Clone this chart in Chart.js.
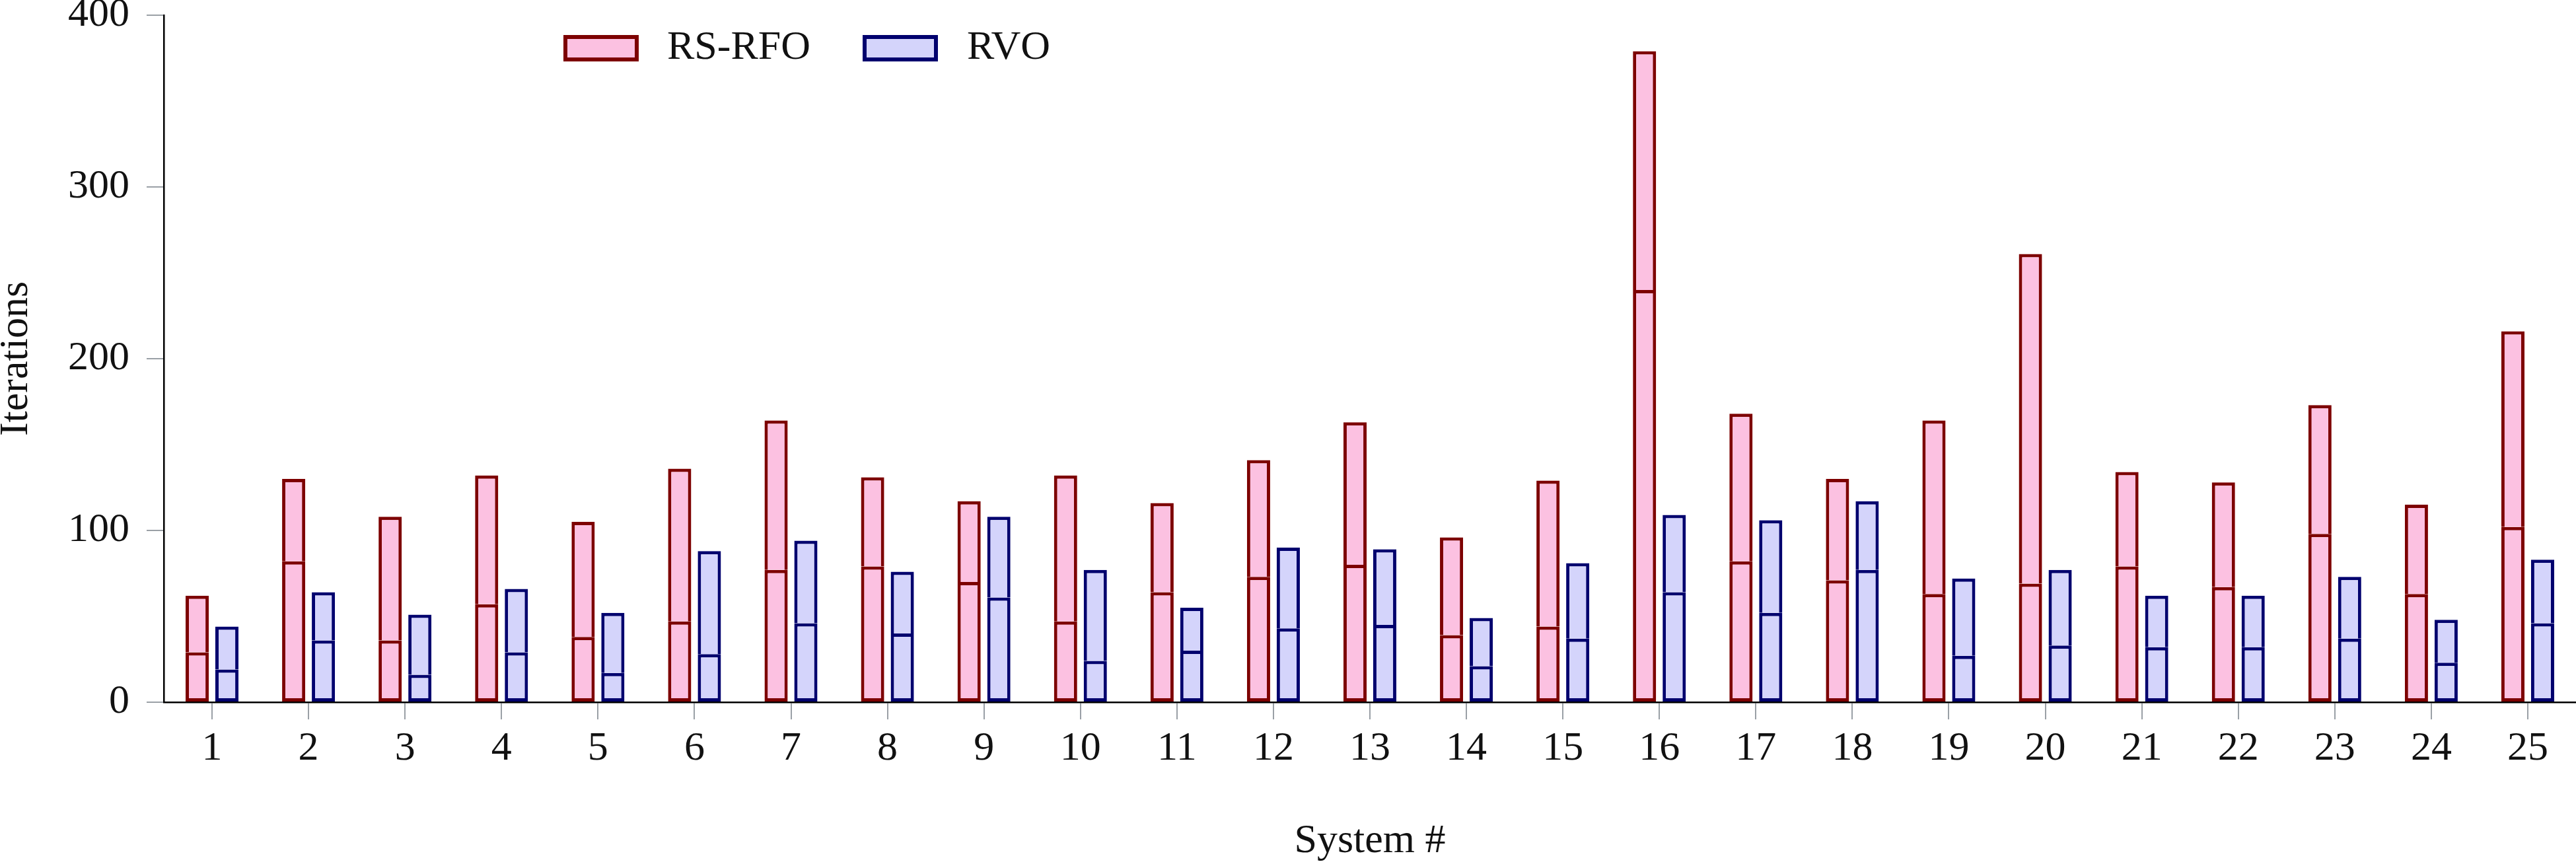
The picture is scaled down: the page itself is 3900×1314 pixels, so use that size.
<!DOCTYPE html>
<html>
<head>
<meta charset="utf-8">
<script src="https://cdn.jsdelivr.net/npm/chart.js@4.4.1/dist/chart.umd.min.js"></script>
<style>
  body { margin: 0; background: #fff; }
  canvas { display: block; }
</style>
</head>
<body>
<canvas id="iterChart" width="3900" height="1314"></canvas>
<script>
// systems 1..25
const systems = ['1','2','3','4','5','6','7','8','9','10','11','12','13','14','15','16','17','18','19','20','21','22','23','24','25'];
// RS-RFO: total iterations and the inner split line
const rsTotal = [62, 130, 108, 132, 105, 136, 164, 131, 117, 132, 116, 141, 163, 96, 129, 379, 168, 130, 164, 261, 134, 128, 173, 115, 216];
const rsLower = [29, 82, 36, 57, 38, 47, 77, 79, 70, 47, 64, 73, 80, 39, 44, 240, 82, 71, 63, 69, 79, 67, 98, 63, 102];
// RVO
const rvoTotal = [44, 64, 51, 66, 52, 88, 94, 76, 108, 77, 55, 90, 89, 49, 81, 109, 106, 117, 72, 77, 62, 62, 73, 48, 83];
const rvoLower = [19, 36, 16, 29, 17, 28, 46, 40, 61, 24, 30, 43, 45, 21, 37, 64, 52, 77, 27, 33, 32, 32, 37, 23, 46];
const yTicks = [0, 100, 200, 300, 400];

const rsFill = '#fcc1e1', rsLine = '#7d0000';
const rvoFill = '#d4d4fb', rvoLine = '#00006e';
const serif = { family: '"Liberation Serif", "DejaVu Serif", serif', size: 62 };
const ink = '#111';

const rsUpper = rsTotal.map((v, i) => v - rsLower[i]);
const rvoUpper = rvoTotal.map((v, i) => v - rvoLower[i]);

function seg(label, data, fill, line, stack, skip) {
  return {
    label: label, data: data, stack: stack,
    backgroundColor: fill, borderColor: line, borderWidth: 5,
    borderSkipped: skip,
    categoryPercentage: 0.616, barPercentage: 0.78
  };
}

// legend drawn inside the plot, like the pgfplots one
const legendPlugin = {
  id: 'innerLegend',
  afterDraw(chart) {
    const ctx = chart.ctx;
    const items = [
      { text: 'RS-RFO', fill: rsFill, line: rsLine, x: 853, tx: 1010 },
      { text: 'RVO', fill: rvoFill, line: rvoLine, x: 1306, tx: 1464 }
    ];
    ctx.save();
    ctx.font = serif.size + 'px ' + serif.family;
    ctx.textBaseline = 'alphabetic';
    items.forEach(it => {
      ctx.fillStyle = it.fill;
      ctx.fillRect(it.x, 53, 114, 40);
      ctx.strokeStyle = it.line;
      ctx.lineWidth = 6;
      ctx.strokeRect(it.x + 3, 56, 108, 34);
      ctx.fillStyle = ink;
      ctx.fillText(it.text, it.tx, 89);
    });
    ctx.restore();
  }
};

new Chart(document.getElementById('iterChart'), {
  type: 'bar',
  data: {
    labels: systems,
    datasets: [
      seg('RS-RFO', rsLower, rsFill, rsLine, 'rs', false),
      seg('RS-RFO', rsUpper, rsFill, rsLine, 'rs', 'start'),
      seg('RVO', rvoLower, rvoFill, rvoLine, 'rvo', false),
      seg('RVO', rvoUpper, rvoFill, rvoLine, 'rvo', 'start')
    ]
  },
  options: {
    responsive: false,
    animation: false,
    layout: { padding: { top: 23, right: 0, bottom: 0, left: 0 } },
    plugins: {
      legend: { display: false },
      tooltip: { enabled: false }
    },
    scales: {
      x: {
        stacked: true,
        offset: true,
        grid: { offset: false, drawOnChartArea: false, color: '#9aa0a6', lineWidth: 2, tickLength: 26 },
        border: { color: '#000', width: 2.5 },
        ticks: { font: serif, color: ink, padding: 8, maxRotation: 0, autoSkip: false },
        title: { display: true, text: 'System #', font: serif, color: ink, padding: { top: 0, bottom: 3 } },
        afterFit: s => { s.height = 251; s.paddingLeft = 0; s.paddingRight = 0; }
      },
      y: {
        stacked: true,
        min: 0,
        max: 400,
        afterBuildTicks: s => { s.ticks = yTicks.map(v => ({ value: v })); },
        grid: { drawOnChartArea: false, color: '#9aa0a6', lineWidth: 2, tickLength: 26 },
        border: { color: '#000', width: 2.5 },
        ticks: { font: serif, color: ink, padding: 26 },
        title: { display: true, text: 'Iterations', font: Object.assign({}, serif, { lineHeight: 0.8 }), color: ink, padding: 0 },
        // fixed axis box; drop the label overhang so the 400 line sits near the top edge
        afterFit: s => { s.width = 248; s.paddingTop = 0; s.paddingBottom = 0; }
      }
    }
  },
  plugins: [legendPlugin]
});
</script>
</body>
</html>
